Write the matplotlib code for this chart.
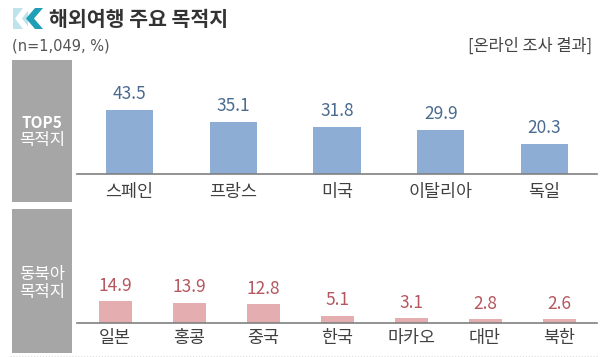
import matplotlib
matplotlib.use('Agg')
import matplotlib.pyplot as plt
from matplotlib.patches import Rectangle, Polygon

plt.rcParams['font.family'] = ['Noto Sans CJK KR', 'DejaVu Sans']

# Data
top_names = ['스페인', '프랑스', '미국', '이탈리아', '독일']
top_values = [43.5, 35.1, 31.8, 29.9, 20.3]
asia_names = ['일본', '홍콩', '중국', '한국', '마카오', '대만', '북한']
asia_values = [14.9, 13.9, 12.8, 5.1, 3.1, 2.8, 2.6]

W, H = 600, 357
fig = plt.figure(figsize=(W / 100, H / 100), dpi=100, facecolor='white')

# Background layer in pixel coordinates for panels, title and icon
bg = fig.add_axes([0, 0, 1, 1])
bg.set_xlim(0, W)
bg.set_ylim(H, 0)
bg.axis('off')

bg.add_patch(Rectangle((12, 60), 60, 142, color='#a6a6a6', lw=0))
bg.add_patch(Rectangle((12, 209), 60, 144, color='#a6a6a6', lw=0))
bg.text(42, 123, 'TOP5', color='white', fontsize=11, fontweight='bold', ha='center', va='center')
bg.text(42, 141, '목적지', color='white', fontsize=12, fontweight='medium', ha='center', va='center')
bg.text(42, 274, '동북아', color='white', fontsize=12, fontweight='medium', ha='center', va='center')
bg.text(42, 292, '목적지', color='white', fontsize=12, fontweight='medium', ha='center', va='center')

# Title icon
bg.add_patch(Rectangle((13, 8), 15, 21, color='#bfe3ea', lw=0))
bg.add_patch(Polygon([(30, 8), (23, 8), (15, 18.5), (23, 29), (30, 29), (22, 18.5)], color='white', lw=0))
bg.add_patch(Polygon([(43, 8), (35, 8), (26, 18.5), (35, 29), (43, 29), (34, 18.5)], color='#1f9fb5', lw=0))

bg.text(49, 19, '해외여행 주요 목적지', color='#333333', fontsize=14.8, fontweight='bold', va='center')
bg.text(12, 46, '(n=1,049, %)', color='#555555', fontsize=10.5, va='center', family=['DejaVu Sans'])
bg.text(592, 46, '[온라인 조사 결과]', color='#444444', fontsize=11.8, va='center', ha='right')
bg.plot([10, 598], [355.5, 355.5], color='#dddddd', lw=0.8, ls=':')


def draw_panel(left, right, base, ytop, names, values, first, step, width, color, txt_color, label_pad, val_pad):
    # Axes spans the pixel box above the baseline, y scale is 1.46 px per unit
    ax = fig.add_axes([left / W, 1 - base / H, (right - left) / W, (base - ytop) / H])
    ax.patch.set_alpha(0)
    ax.set_xlim((left - first) / step, (right - first) / step)
    ax.set_ylim(0, (base - ytop) / 1.46)
    pos = list(range(len(names)))
    bars = ax.bar(pos, values, width=width / step, color=color)
    ax.bar_label(bars, labels=[f'{v:.1f}' for v in values], padding=val_pad, color=txt_color,
                 fontsize=12.5, fontweight='medium')
    for s in ['top', 'left', 'right']:
        ax.spines[s].set_visible(False)
    ax.spines['bottom'].set_color('#808080')
    ax.spines['bottom'].set_linewidth(1.2)
    ax.set_yticks([])
    ax.set_xticks(pos)
    ax.set_xticklabels(names, fontsize=12.5, color='#404040')
    ax.tick_params(axis='x', length=0, pad=label_pad)
    return ax


draw_panel(77, 597, 173.5, 62, top_names, top_values, 129.5, 103.75, 47.5, '#8dadd5', '#4a6a8f', 7, 5)
draw_panel(77, 597, 323, 211, asia_names, asia_values, 115, 74, 33, '#e4aeb0', '#b5575f', 4, 4.5)

fig.savefig('out.png', dpi=100)
